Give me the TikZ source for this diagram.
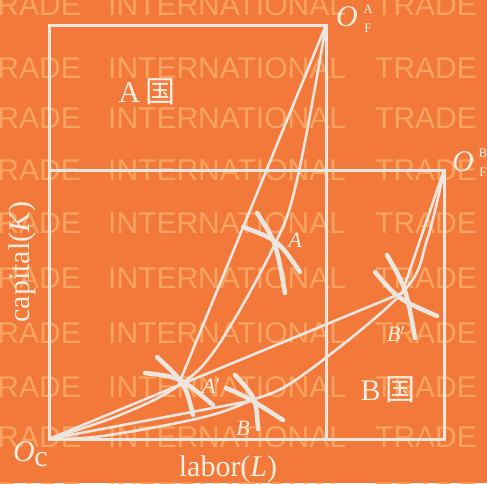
\documentclass[tikz,border=0pt]{standalone}
\usepackage{fontspec}
\setmainfont{Liberation Serif}
\newfontfamily\wmfont{Liberation Sans}
\newfontfamily\cjk{Noto Sans CJK SC}
\usetikzlibrary{calc}
\definecolor{bg}{RGB}{243,121,58}
\definecolor{wm}{RGB}{248,163,98}
\definecolor{ln}{RGB}{236,230,222}
\definecolor{tx}{RGB}{250,238,226}
\begin{document}
\begin{tikzpicture}[x=1pt,y=-1pt,
  boxline/.style={draw=ln, line width=3pt},
  curveline/.style={draw=ln, line width=2.6pt, line cap=round},
  isoq/.style={draw=ln, line width=4.5pt, line cap=round},
  wmtext/.style={text=wm, font=\wmfont\fontsize{30}{30}\selectfont, inner sep=0pt, anchor=base west},
  lab/.style={text=tx, font=\fontsize{30}{30}\selectfont, inner sep=0pt},
  sml/.style={text=tx, font=\fontsize{13}{13}\selectfont, inner sep=0pt},
  ptlab/.style={text=tx, font=\fontsize{22}{22}\selectfont\itshape, inner sep=0pt}]
\useasboundingbox (0,0) rectangle (487,483);
\fill[bg] (0,0) rectangle (487,483);
\begin{scope}
\clip (0,0) rectangle (487,483);
\foreach \yy in {15,78,128,180,233,288,343,397,447,503} {
  \node[wmtext, anchor=base east] (wa\yy) at (81,\yy) {TRADE};
  \node[wmtext] (wb\yy) at (108,\yy) {INTERNATIONAL};
  \node[wmtext] (wc\yy) at (375,\yy) {TRADE};
}
\end{scope}
% corners and points
\coordinate (Oc) at (49,439);
\coordinate (OA) at (326,25);
\coordinate (OB) at (444,170);
\coordinate (Ap) at (178,386);
\coordinate (A) at (273,248);
\coordinate (B) at (250,401);
\coordinate (Bp) at (402,293);
% boxes
\draw[boxline] (Oc) rectangle (OA);
\draw[boxline] (Oc) rectangle (OB);
% rays
\draw[curveline] (Oc) -- (Bp);
\draw[curveline] (OA) -- (Ap);
\draw[curveline] (OB) -- (Bp);
\draw[curveline] (Oc) -- (B);
% contract curves
\draw[curveline] plot[smooth, tension=0.6] coordinates {(Oc) (120,415) (Ap) (217,347) (A) (297,180) (OA)};
\draw[curveline] plot[smooth, tension=0.6] coordinates {(Oc) (103,436) (200,418) (B) (300,377) (Bp) (427,240) (OB)};
% isoquant crosses
\draw[isoq] (157,357) .. controls (185,383) .. (193,415);
\draw[isoq] (145,373) .. controls (180,377) .. (213,405);
\draw[isoq] (257,213) .. controls (276,242) .. (285,293);
\draw[isoq] (243,227) .. controls (278,240) .. (300,272);
\draw[isoq] (235,375) .. controls (256,398) .. (258,429);
\draw[isoq] (226,388) .. controls (247,397) .. (283,420);
\draw[isoq] (387,255) .. controls (406,288) .. (415,338);
\draw[isoq] (375,272) .. controls (398,299) .. (437,316);
% labels
\node[lab, font=\fontsize{30}{30}\selectfont\itshape] (oa) at (347,17) {O};
\node[sml] (oaA) at (368,9) {A};
\node[sml] (oaF) at (368,28) {F};
\node[lab, font=\fontsize{30}{30}\selectfont\itshape] (ob) at (463,162) {O};
\node[sml] (obB) at (483,153) {B};
\node[sml] (obF) at (483,172) {F};
\node[lab, font=\fontsize{30}{30}\selectfont\itshape] (oc) at (24,452) {O};
\node[lab] (occ) at (41,460) {c};
\node[lab, anchor=base] (labor) at (228,476) {labor(\textit{L})};
\node[lab, rotate=90] (capital) at (22,262) {capital(\textit{K})};
\node[lab] (acountry) at (147,92) {A\,{\cjk 国}};
\node[lab] (bcountry) at (388,390) {B\,{\cjk 国}};
\node[ptlab] (alab) at (295,240) {A};
\node[ptlab] (aplab) at (211,386) {A$'$};
\node[ptlab] (blab) at (243,428) {B};
\node[ptlab] (bplab) at (396,334) {B$'$};
\end{tikzpicture}
\end{document}
